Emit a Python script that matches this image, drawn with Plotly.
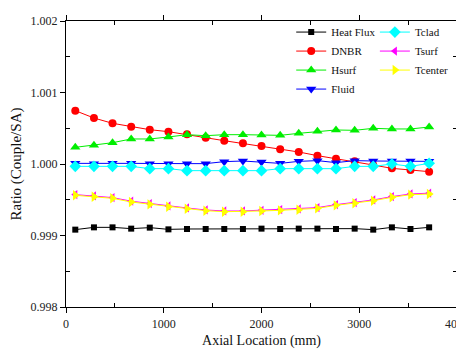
import plotly.graph_objects as go

# Axial locations (mm)
x_mm = [95, 286, 476, 667, 857, 1048, 1238, 1429, 1619, 1810,
        2000, 2191, 2381, 2572, 2762, 2953, 3143, 3334, 3524, 3715]

heat_flux = [0.999082, 0.999114, 0.999114, 0.999096, 0.999110, 0.999086, 0.999091, 0.999091, 0.999091, 0.999091,
             0.999096, 0.999091, 0.999096, 0.999096, 0.999091, 0.999096, 0.999082, 0.999114, 0.999091, 0.999114]
dnbr = [1.000746, 1.000643, 1.000569, 1.000522, 1.000480, 1.000452, 1.000415, 1.000368, 1.000326, 1.000289,
        1.000252, 1.000205, 1.000168, 1.000117, 1.000075, 1.000037, 0.999986, 0.999939, 0.999916, 0.999893]
hsurf = [1.000233, 1.000261, 1.000298, 1.000350, 1.000350, 1.000378, 1.000410, 1.000396, 1.000410, 1.000410,
         1.000406, 1.000401, 1.000429, 1.000457, 1.000476, 1.000471, 1.000499, 1.000490, 1.000490, 1.000517]
fluid = [1.000009, 1.000005, 1.000009, 1.000009, 1.000005, 1.000005, 1.000005, 1.000005, 1.000033, 1.000042,
         1.000028, 1.000009, 1.000037, 1.000047, 1.000019, 1.000047, 1.000042, 1.000042, 1.000042, 1.000037]
tclad = [0.999967, 0.999967, 0.999967, 0.999967, 0.999935, 0.999935, 0.999907, 0.999907, 0.999907, 0.999907,
         0.999907, 0.999935, 0.999935, 0.999935, 0.999935, 0.999967, 0.999967, 1.000000, 0.999967, 1.000009]
tsurf = [0.999572, 0.999553, 0.999530, 0.999480, 0.999446, 0.999413, 0.999385, 0.999357, 0.999343, 0.999343,
         0.999353, 0.999362, 0.999371, 0.999390, 0.999432, 0.999460, 0.999497, 0.999544, 0.999581, 0.999592]
tcenter = [0.999562, 0.999543, 0.999520, 0.999469, 0.999436, 0.999403, 0.999375, 0.999347, 0.999333, 0.999333,
           0.999343, 0.999352, 0.999361, 0.999380, 0.999422, 0.999450, 0.999487, 0.999534, 0.999571, 0.999580]

series = [
    ("Heat Flux", heat_flux, "#000000", "square", 6, "legend"),
    ("DNBR", dnbr, "#ff0000", "circle", 8, "legend"),
    ("Hsurf", hsurf, "#00ee00", "triangle-up", 9, "legend"),
    ("Fluid", fluid, "#0000ff", "triangle-down", 9, "legend"),
    ("Tclad", tclad, "#00ffff", "diamond", 9, "legend2"),
    ("Tsurf", tsurf, "#ff00ff", "triangle-left", 8, "legend2"),
    ("Tcenter", tcenter, "#ffff00", "triangle-right", 9, "legend2"),
]

FONT = "'Liberation Serif', 'Times New Roman', Times, serif"

fig = go.Figure()
for name, ys, color, sym, size, leg in series:
    fig.add_trace(go.Scatter(
        x=x_mm, y=ys, name=name, mode="lines+markers",
        line=dict(color=color, width=1),
        marker=dict(symbol=sym, size=size, color=color, line=dict(width=0)),
        legend=leg,
    ))

axis_common = dict(
    showline=True, linecolor="black", linewidth=1.2, mirror="allticks",
    ticks="outside", ticklen=5, tickwidth=1, tickcolor="black",
    showgrid=False, zeroline=False,
    tickfont=dict(family=FONT, size=12, color="#222"),
    ticklabeloverflow="allow",
)

# The page adds an 8px body margin, so the figure is sized to fill the rest of the window.
fig.update_layout(
    width=456, height=341,
    margin=dict(l=58, r=7, t=13, b=42),
    paper_bgcolor="white", plot_bgcolor="white",
    font=dict(family=FONT, color="#111"),
    xaxis=dict(
        range=[0, 4000], tickvals=[0, 1000, 2000, 3000, 4000],
        minor=dict(tickvals=[500, 1500, 2500, 3500], ticks="inside", ticklen=4, tickcolor="black"),
        title=dict(text="Axial Location (mm)", font=dict(family=FONT, size=14, color="#111"), standoff=7),
        automargin=False,
        **axis_common,
    ),
    yaxis=dict(
        range=[0.998, 1.002], tickvals=[0.998, 0.999, 1.000, 1.001, 1.002], tickformat=".3f",
        minor=dict(tickvals=[0.9985, 0.9995, 1.0005, 1.0015], ticks="inside", ticklen=4, tickcolor="black"),
        title=dict(text="Ratio (Couple/SA)", font=dict(family=FONT, size=15, color="#111"), standoff=10),
        automargin=False,
        **axis_common,
    ),
    legend=dict(
        x=0.576, y=1.012, xanchor="left", yanchor="top",
        bgcolor="rgba(0,0,0,0)", borderwidth=0,
        font=dict(family=FONT, size=11, color="#111"),
        itemwidth=30, tracegroupgap=0,
    ),
    legend2=dict(
        x=0.79, y=1.012, xanchor="left", yanchor="top",
        bgcolor="rgba(0,0,0,0)", borderwidth=0,
        font=dict(family=FONT, size=11, color="#111"),
        itemwidth=30, tracegroupgap=0,
    ),
    showlegend=True,
)

fig.write_html("out.html")
